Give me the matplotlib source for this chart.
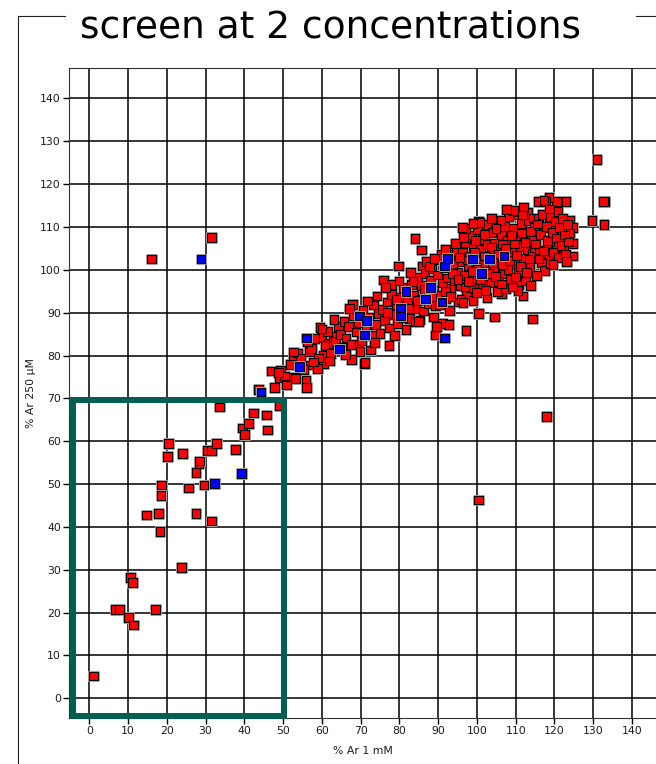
import matplotlib
matplotlib.use("Agg")
import matplotlib.pyplot as plt
import matplotlib.patheffects as pe
from matplotlib.patches import Rectangle
from matplotlib.lines import Line2D

title = "screen at 2 concentrations"
x_label = "% Ar 1 mM"
y_label = "% Ar 250 µM"
x_ticks = list(range(0, 141, 10))
y_ticks = list(range(0, 141, 10))

# highlighted region (data coords)
box_x = [-4.2, 50.2]
box_y = [-4.1, 69.5]

# red points (x, y)
red_tail = [(1.0, 5.2), (6.6, 20.8), (7.7, 20.8), (10.0, 18.8), (11.3, 17.1), (10.7, 28.1),
            (11.1, 27.1), (17.0, 20.8), (23.8, 30.5), (14.7, 42.8), (17.8, 43.2), (18.2, 38.9),
            (18.7, 49.8), (18.5, 47.4), (20.5, 59.5), (20.1, 56.5), (24.1, 57.2), (25.5, 49.1),
            (27.5, 43.2), (27.5, 52.7), (28.3, 54.8), (28.5, 55.4), (29.6, 49.8), (30.5, 57.8),
            (31.6, 57.9), (31.6, 41.4), (32.8, 59.5), (33.5, 68.0), (37.6, 58.1), (39.5, 63.1),
            (40.0, 61.6), (41.0, 64.2), (42.3, 66.6), (45.7, 66.1), (46.0, 62.6), (43.7, 72.1),
            (47.7, 72.6), (49.0, 68.2)]

red_outliers = [(16.1, 102.5), (31.6, 107.6), (118.0, 65.7), (100.5, 46.3), (131.0, 125.8),
                (133.0, 115.9), (132.6, 115.9), (129.7, 111.6), (132.8, 110.6), (84.0, 107.3),
                (85.7, 104.6), (114.3, 88.5), (104.5, 89.0), (97.2, 85.9), (92.6, 87.1),
                (89.4, 84.8), (100.5, 89.8)]

red_edges = [(117.7, 116.0), (120.6, 115.9), (123.0, 115.9), (118.6, 116.9), (118.6, 112.5),
             (124.0, 111.6), (124.6, 109.9), (124.0, 108.6), (124.7, 106.2), (124.7, 103.2),
             (122.3, 104.6), (120.6, 105.4), (118.8, 106.5), (119.9, 109.6), (117.5, 109.8),
             (117.5, 103.8), (118.6, 103.4), (110.8, 96.6), (111.9, 93.9), (106.4, 94.5),
             (100.5, 111.2), (113.2, 113.3), (110.2, 112.8), (118.8, 112.5), (115.8, 115.9),
             (117.8, 115.9), (91.1, 87.5), (92.8, 87.3), (85.3, 88.3), (77.3, 82.4),
             (72.6, 81.3), (70.9, 78.2), (79.7, 100.9), (86.0, 100.9), (75.8, 97.6),
             (78.0, 96.6), (67.9, 91.9), (49.0, 74.9), (47.0, 76.4), (49.4, 76.6),
             (52.6, 74.8), (55.9, 74.3), (56.1, 72.6), (52.6, 79.1), (53.6, 80.6),
             (56.9, 77.8), (56.7, 80.9), (60.5, 78.2), (60.3, 80.1), (59.9, 84.2),
             (67.7, 79.1), (71.1, 78.3), (69.4, 82.7), (61.6, 82.8), (62.9, 84.4),
             (59.5, 86.5)]

red_band_low = [(50.3, 75.2), (51.8, 77.9), (53.1, 74.6), (54.4, 79.3), (52.6, 80.8),
                (55.2, 76.7), (50.9, 73.1), (48.7, 76.0), (57.4, 81.6), (58.2, 83.9),
                (59.1, 79.4), (60.8, 82.3), (61.5, 85.6), (62.3, 80.5), (63.6, 83.2),
                (64.2, 86.7), (65.0, 81.8), (58.9, 76.9), (61.9, 78.7), (63.1, 88.4),
                (64.8, 84.9), (56.3, 83.3), (60.0, 86.2), (65.7, 87.9), (57.8, 78.5),
                (66.2, 84.1), (66.9, 86.8), (67.5, 82.6), (68.1, 89.3), (68.8, 85.5),
                (69.3, 87.7), (70.2, 83.4), (70.6, 90.6), (71.4, 86.1), (72.0, 88.9),
                (72.7, 84.6), (73.3, 91.8), (73.9, 87.3), (74.5, 89.8), (75.0, 85.2),
                (66.0, 80.3), (69.8, 80.9), (71.8, 92.7), (74.2, 93.9), (67.2, 91.0),
                (73.5, 83.0)]

red_band_mid = [(75.6, 90.7), (76.2, 88.1), (76.8, 92.5), (77.4, 86.4), (77.9, 94.3),
                (78.5, 89.6), (79.1, 91.9), (79.6, 87.5), (80.3, 93.6), (80.9, 95.8),
                (81.4, 90.2), (82.0, 92.7), (82.6, 88.6), (83.1, 96.5), (83.7, 94.1),
                (84.3, 90.9), (84.8, 98.2), (76.5, 95.8), (78.8, 84.7), (81.7, 86.0),
                (82.9, 99.3), (84.0, 87.9), (79.9, 97.4), (77.0, 90.0), (85.3, 93.0),
                (85.7, 96.3), (86.2, 90.4), (86.6, 99.1), (87.1, 94.7), (87.5, 92.1),
                (88.0, 97.6), (88.4, 100.2), (88.9, 95.3), (89.3, 91.6), (89.8, 98.8),
                (90.2, 102.4), (90.6, 94.1), (91.1, 96.9), (91.5, 100.5), (92.0, 93.2),
                (92.4, 98.1), (92.9, 103.6), (93.3, 95.7), (93.8, 101.3), (94.2, 97.4),
                (94.7, 104.5), (95.0, 99.5), (95.3, 92.5), (86.9, 101.9), (88.7, 89.0),
                (90.9, 103.5), (93.0, 90.5), (94.5, 106.2), (85.0, 88.0), (87.8, 100.8),
                (89.6, 86.7)]

red_band_core = [(95.7, 96.2), (96.0, 101.8), (96.3, 104.0), (96.7, 98.7), (97.0, 106.3),
                 (97.4, 94.3), (97.8, 100.9), (98.1, 103.2), (98.5, 108.1), (98.8, 97.5),
                 (99.2, 105.2), (99.5, 99.8), (99.9, 102.6), (100.2, 109.4), (100.6, 95.8),
                 (101.0, 104.7), (101.3, 107.0), (101.7, 98.4), (102.1, 101.6), (102.4, 110.5),
                 (102.8, 105.9), (103.2, 97.0), (103.5, 103.3), (103.9, 108.7), (104.2, 100.4),
                 (104.6, 106.2), (105.0, 111.6), (105.3, 94.9), (95.9, 93.0), (97.2, 109.6),
                 (99.0, 92.8), (100.8, 111.0), (102.6, 93.6), (104.4, 103.0), (96.5, 107.5),
                 (98.3, 95.8), (101.5, 96.5), (103.7, 111.9), (99.7, 106.9), (100.0, 100.2),
                 (97.6, 102.3), (102.0, 108.3), (105.7, 101.9), (106.0, 104.6), (106.4, 108.3),
                 (106.8, 99.0), (107.1, 110.2), (107.5, 102.8), (107.9, 106.8), (108.2, 112.4),
                 (108.6, 97.8), (109.0, 104.1), (109.3, 109.6), (109.7, 101.3), (110.1, 107.7),
                 (110.4, 113.6), (110.8, 99.6), (111.1, 105.3), (111.5, 110.9), (111.9, 102.7),
                 (112.2, 108.0), (112.6, 97.4), (113.0, 104.8), (113.3, 111.4), (113.7, 100.6),
                 (114.1, 107.1), (114.4, 103.9), (114.8, 109.8), (105.5, 97.2), (107.3, 95.5),
                 (109.5, 113.8), (112.0, 114.5), (113.9, 96.3), (106.2, 111.5), (110.6, 95.2),
                 (108.0, 100.0), (111.7, 112.8), (114.6, 112.1), (106.6, 106.0), (109.2, 96.0)]

red_band_fill = [(91.8, 95.0), (93.6, 99.2), (95.4, 102.8), (96.9, 96.0), (98.7, 99.6),
                 (99.4, 104.0), (100.9, 97.7), (101.9, 103.2), (103.0, 99.2), (103.8, 105.3),
                 (104.8, 98.5), (105.6, 103.6), (106.5, 101.3), (107.4, 105.0), (108.4, 102.2),
                 (109.6, 106.0), (110.3, 103.4), (111.3, 100.7), (112.4, 106.3), (113.5, 102.5),
                 (114.9, 105.2), (116.2, 104.6), (115.9, 111.9), (113.9, 109.0), (111.4, 108.6),
                 (108.9, 108.0), (106.9, 103.1), (104.1, 101.7), (102.3, 95.2), (99.8, 94.7),
                 (97.9, 97.3), (95.1, 97.8), (93.1, 93.8), (90.4, 91.8), (88.2, 93.7),
                 (86.4, 95.4), (84.6, 92.8), (82.3, 90.9), (80.7, 88.9), (79.3, 93.1),
                 (83.5, 97.3), (89.1, 102.6), (91.9, 104.7), (96.2, 109.8), (99.0, 110.9),
                 (104.9, 109.7), (107.7, 114.0), (112.8, 99.3), (116.7, 101.6), (120.9, 113.6),
                 (121.9, 106.9), (118.1, 104.8), (96.4, 92.4), (106.3, 96.7), (110.0, 98.3)]

red_band_high = [(115.2, 106.0), (115.6, 110.7), (116.0, 102.5), (116.4, 108.2), (116.8, 113.0),
                 (117.1, 104.4), (117.5, 99.8), (117.9, 110.1), (118.3, 106.9), (118.7, 114.2),
                 (119.0, 101.4), (119.4, 108.7), (119.8, 104.0), (120.2, 111.3), (120.6, 107.4),
                 (121.0, 102.8), (121.3, 109.8), (121.7, 105.6), (122.1, 112.0), (122.5, 108.1),
                 (122.9, 103.7), (123.3, 110.6), (123.7, 106.5), (123.2, 102.0), (115.4, 98.6),
                 (117.3, 116.1), (119.6, 101.2)]

blue_x = [28.8, 32.2, 39.3, 44.3, 54.3, 56.1, 64.5, 70.9, 69.6, 71.5, 80.3, 80.3, 81.7, 86.8,
          88.1, 91.0, 91.7, 91.7, 92.4, 98.9, 103.2, 107.0, 101.2]
blue_y = [102.5, 50.2, 52.5, 71.5, 77.5, 84.1, 81.5, 84.8, 89.2, 88.1, 91.0, 89.2, 94.9, 93.2,
          95.8, 92.5, 84.1, 100.9, 102.7, 102.5, 102.5, 103.2, 99.2]

red_groups = [red_tail, red_outliers, red_edges, red_band_low, red_band_mid,
              red_band_core, red_band_fill, red_band_high]
red_x = [p[0] for g in red_groups for p in g]
red_y = [p[1] for g in red_groups for p in g]

W, H = 656, 764
fig = plt.figure(figsize=(W / 100, H / 100), dpi=100)
fig.patch.set_facecolor("white")

ax_l, ax_r, ax_t, ax_b = 69, 656, 68, 718
ax = fig.add_axes([ax_l / W, 1 - ax_b / H, (ax_r - ax_l) / W, (ax_b - ax_t) / H])
ax.set_xlim(-5.26, 146.2)
ax.set_ylim(-4.6, 147.1)

ax.set_xticks(x_ticks)
ax.set_yticks(y_ticks)
ax.set_xticklabels([str(t) for t in x_ticks])
ax.set_yticklabels([str(t) for t in y_ticks])
ax.tick_params(direction="out", length=4.3, width=1.0, color="black",
               labelsize=7.8, labelcolor="#1a1a1a", pad=1.5)
ax.grid(True, color="black", linewidth=1.1)
ax.set_axisbelow(True)
for s in ["left", "top", "bottom"]:
    ax.spines[s].set_linewidth(0.8)
    ax.spines[s].set_color("#333333")
ax.spines["right"].set_visible(False)

ax.set_xlabel(x_label, fontsize=7.8, color="#1a1a1a", labelpad=7)
ax.set_ylabel(y_label, fontsize=7.8, color="#1a1a1a", labelpad=3)

halo = [pe.Stroke(linewidth=2.2, foreground="#a8a8a8"), pe.Normal()]
ax.scatter(red_x, red_y, marker="s", s=40, c="#ff0000", edgecolors="black",
           linewidths=0.8, zorder=3, path_effects=halo)
ax.scatter(blue_x, blue_y, marker="s", s=40, c="#0000ff", edgecolors="black",
           linewidths=0.8, zorder=4, path_effects=halo)

ax.add_patch(Rectangle((box_x[0], box_y[0]), box_x[1] - box_x[0], box_y[1] - box_y[0],
                       fill=False, edgecolor="#005e52", linewidth=4.3, zorder=5,
                       clip_on=False))

# group-box frame
fx = 17.5
fy = 15.5
frame_kw = dict(color="#222222", linewidth=0.8, transform=fig.transFigure)
fig.add_artist(Line2D([fx / W, fx / W], [1 - fy / H, 0], **frame_kw))
fig.add_artist(Line2D([fx / W, 65 / W], [1 - fy / H, 1 - fy / H], **frame_kw))
fig.add_artist(Line2D([636 / W, 1], [1 - fy / H, 1 - fy / H], **frame_kw))

fig.text(330 / W, 1 - 38 / H, title, ha="center", va="baseline",
         fontsize=27, color="black", family="DejaVu Sans")

fig.savefig("out.png", dpi=100, facecolor="white")
